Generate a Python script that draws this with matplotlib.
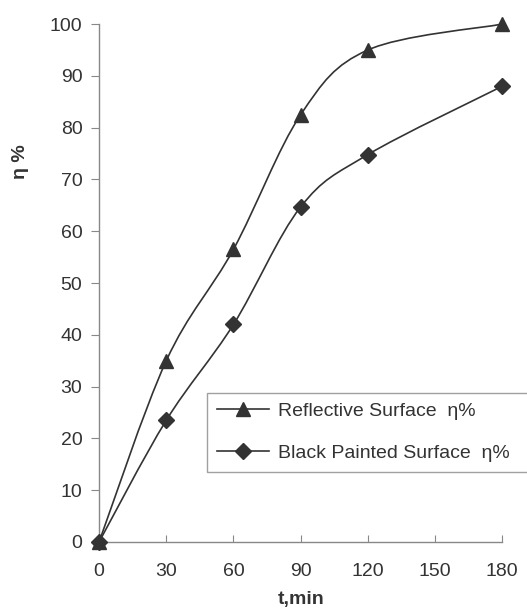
import numpy as np
import matplotlib
matplotlib.use("Agg")
import matplotlib.pyplot as plt
from matplotlib.path import Path
from matplotlib.patches import PathPatch
from matplotlib.lines import Line2D

# ── Data ───────────────────────────────────────────────────────
time_min = [0, 30, 60, 90, 120, 180]
reflective_eta = [0, 35, 56.5, 82.5, 95, 100]
black_painted_eta = [0, 23.5, 42, 64.7, 74.8, 88]
x_ticks = [0, 30, 60, 90, 120, 150, 180]
y_ticks = [0, 10, 20, 30, 40, 50, 60, 70, 80, 90, 100]
legend_labels = ["Reflective Surface  η%", "Black Painted Surface  η%"]

INK = "#333333"
AXIS = "#888888"
FS = 14

plt.rcParams["font.family"] = ["Liberation Sans", "DejaVu Sans"]


def smooth_path(xs, ys):
    # Bezier curve through the points (like a spreadsheet "smoothed line")
    pts = np.column_stack([xs, ys]).astype(float)
    verts = [tuple(pts[0])]
    codes = [Path.MOVETO]
    n = len(pts)
    for i in range(n - 1):
        p0 = pts[i - 1] if i > 0 else pts[i]
        p1, p2 = pts[i], pts[i + 1]
        p3 = pts[i + 2] if i + 2 < n else pts[i + 1]
        c1 = p1 + (p2 - p0) / 6.0
        c2 = p2 - (p3 - p1) / 6.0
        verts += [tuple(c1), tuple(c2), tuple(p2)]
        codes += [Path.CURVE4] * 3
    return Path(verts, codes)


fig = plt.figure(figsize=(5.27, 6.10), dpi=100)
ax = fig.add_axes([0.188, 0.1115, 0.765, 0.849])

series = [(reflective_eta, "^", 10), (black_painted_eta, "D", 8)]
for ys, marker, ms in series:
    ax.add_patch(PathPatch(smooth_path(time_min, ys), facecolor="none",
                           edgecolor=INK, lw=1.2, clip_on=False, zorder=2))
    ax.plot(time_min, ys, linestyle="none", marker=marker, ms=ms,
            color=INK, clip_on=False, zorder=3)

ax.set_xlim(0, 180)
ax.set_ylim(0, 100)
ax.set_xticks(x_ticks)
ax.set_yticks(y_ticks)

for s in ["top", "right"]:
    ax.spines[s].set_visible(False)
for s in ["left", "bottom"]:
    ax.spines[s].set_color(AXIS)
    ax.spines[s].set_linewidth(1.0)

ax.tick_params(axis="x", direction="in", length=5, color=AXIS,
               labelsize=FS, labelcolor=INK, pad=15)
ax.tick_params(axis="y", direction="out", length=6, color=AXIS,
               labelsize=FS, labelcolor=INK, pad=6)

ax.set_xlabel("t,min", fontsize=FS, fontweight="bold", color=INK)
ax.xaxis.set_label_coords(0.5, -0.112)
ax.xaxis.label.set_va("center")
ax.set_ylabel("η %", fontsize=FS, fontweight="bold", color=INK)
ax.yaxis.set_label_coords(-0.194, 0.734)
ax.yaxis.label.set_va("center")

# legend box runs past the right edge of the figure, as in the original
handles = [Line2D([], [], color=INK, lw=1.2, marker=m, ms=ms) for _, m, ms in series]
leg = ax.legend(handles, legend_labels,
                loc="upper left", bbox_to_anchor=(0.268, 0.118, 0.82, 0.17),
                mode="expand",
                frameon=True, fancybox=False, fontsize=FS, labelcolor=INK,
                handlelength=2.7, handletextpad=0.45, borderpad=0.5,
                labelspacing=1.25, borderaxespad=0)
leg.get_frame().set_edgecolor(AXIS)
leg.get_frame().set_linewidth(1.0)

fig.savefig("out.png", dpi=100)
